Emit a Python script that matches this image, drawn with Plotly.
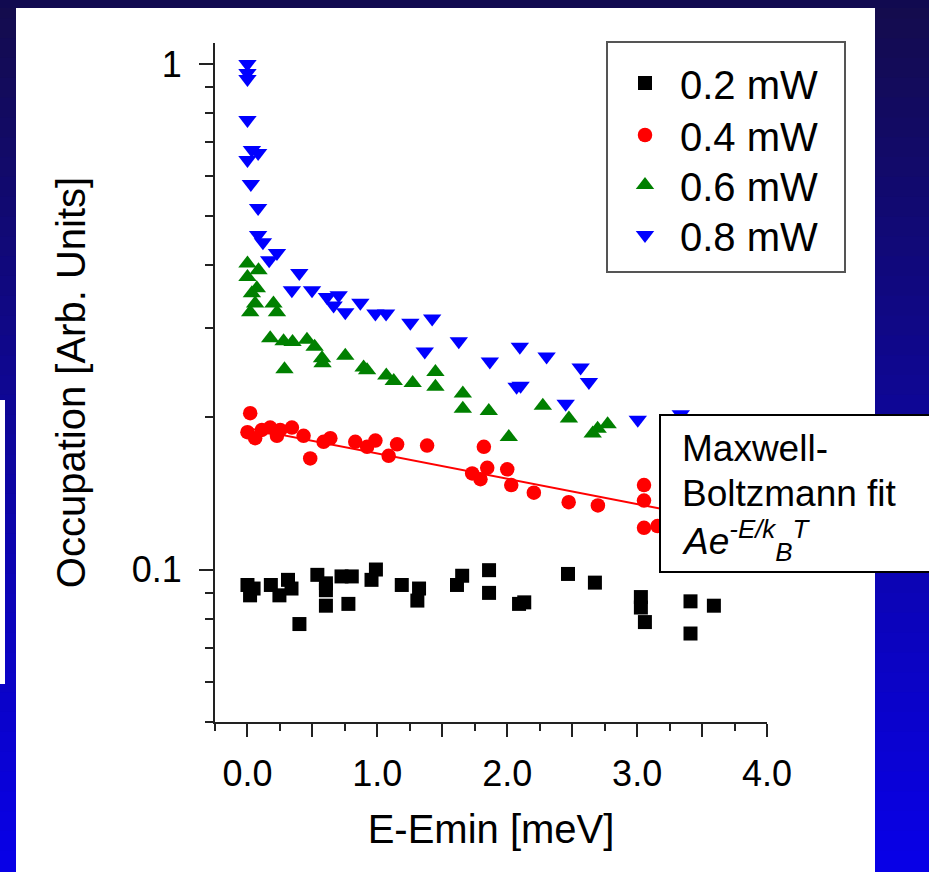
import plotly.graph_objects as go

# ---------------- data ----------------
series_names = ["0.2 mW", "0.4 mW", "0.6 mW", "0.8 mW"]

E_02 = [0.00, 0.047, 0.02, 0.18, 0.246, 0.312, 0.339, 0.40, 0.538, 0.604, 0.604, 0.604,
        0.724, 0.803, 0.777, 0.955, 0.989, 1.188, 1.321, 1.308, 1.613, 1.653, 1.860, 1.860,
        2.091, 2.131, 2.468, 2.675, 3.029, 3.029, 3.06, 3.411, 3.411, 3.591]
occ_02 = [0.0933, 0.0918, 0.0890, 0.0933, 0.0890, 0.0955, 0.0918, 0.0781, 0.0977, 0.0940,
          0.0911, 0.0849, 0.0970, 0.0970, 0.0856, 0.0955, 0.1001, 0.0933, 0.0918, 0.0869,
          0.0933, 0.0973, 0.0998, 0.0900, 0.0856, 0.0862, 0.0981, 0.0943, 0.0883, 0.0842,
          0.0788, 0.0866, 0.0748, 0.0849]

E_04 = [0.021, 0.00, 0.059, 0.111, 0.175, 0.227, 0.252, 0.342, 0.432, 0.483, 0.586, 0.638,
        0.830, 0.921, 0.985, 1.087, 1.152, 1.383, 1.820, 1.730, 1.794, 1.846, 2.000, 2.031,
        2.205, 2.473, 2.698, 3.053, 3.053, 3.053, 3.157]
occ_04 = [0.204, 0.187, 0.182, 0.189, 0.191, 0.184, 0.189, 0.191, 0.184, 0.166, 0.179, 0.182,
          0.179, 0.175, 0.180, 0.168, 0.177, 0.176, 0.175, 0.155, 0.151, 0.159, 0.158, 0.147,
          0.142, 0.136, 0.134, 0.147, 0.137, 0.121, 0.122]

E_06 = [0.00, 0.085, 0.00, 0.072, 0.034, 0.059, 0.20, 0.021, 0.227, 0.175, 0.278, 0.347,
        0.458, 0.517, 0.574, 0.578, 0.753, 0.285, 0.894, 0.921, 1.069, 1.126, 1.272, 1.447,
        1.447, 1.658, 1.658, 1.858, 2.012, 2.274, 2.475, 2.658, 2.696, 2.773]
occ_06 = [0.403, 0.391, 0.379, 0.360, 0.352, 0.336, 0.336, 0.323, 0.323, 0.287, 0.283, 0.282,
          0.285, 0.276, 0.262, 0.256, 0.265, 0.249, 0.251, 0.248, 0.242, 0.236, 0.234, 0.246,
          0.230, 0.223, 0.208, 0.206, 0.183, 0.211, 0.199, 0.186, 0.190, 0.194]

E_08 = [0.00, 0.00, 0.00, 0.00, 0.034, 0.082, 0.00, 0.026, 0.082, 0.082, 0.119, 0.227,
        0.167, 0.399, 0.342, 0.497, 0.612, 0.702, 0.663, 0.753, 0.869, 0.985, 1.067, 1.254,
        1.422, 1.365, 1.627, 1.866, 2.097, 2.072, 2.103, 2.303, 2.565, 2.629, 2.450, 3.005,
        3.336]
occ_08 = [1.00, 0.960, 0.934, 0.775, 0.676, 0.667, 0.646, 0.579, 0.519, 0.459, 0.444, 0.423,
          0.409, 0.386, 0.357, 0.357, 0.346, 0.349, 0.333, 0.323, 0.337, 0.321, 0.321, 0.308,
          0.314, 0.270, 0.283, 0.258, 0.276, 0.230, 0.231, 0.264, 0.251, 0.235, 0.213, 0.198,
          0.203]

# Maxwell-Boltzmann fit drawn through the 0.4 mW points (straight on log axis)
fit_E = [0.0, 3.5]
fit_occ = [0.1905, 0.1273]

x_tickvals = [0, 0.5, 1, 1.5, 2, 2.5, 3, 3.5, 4]
x_ticktext = ["0.0", "", "1.0", "", "2.0", "", "3.0", "", "4.0"]
x_minor = [-0.25, 0.25, 0.75, 1.25, 1.75, 2.25, 2.75, 3.25, 3.75]
y_tickvals = [0.1, 1]
y_ticktext = ["0.1", "1"]
y_minor = [0.05, 0.06, 0.07, 0.08, 0.09, 0.2, 0.3, 0.4, 0.5, 0.6, 0.7, 0.8, 0.9]

# ---------------- layout geometry ----------------
W, H = 929, 872
L, R, T, B = 215, 162, 43, 150
PW, PH = W - L - R, H - T - B
FONT = "Liberation Sans, Arial, sans-serif"


def px2x(p):
    return (p - L) / PW


def py2y(p):
    return (H - B - p) / PH


fig = go.Figure()

fig.add_trace(go.Scatter(x=fit_E, y=fit_occ, mode="lines", showlegend=False,
                         line=dict(color="#ff0000", width=2), hoverinfo="skip"))

styles = [
    (E_02, occ_02, "#000000", "square", 14),
    (E_04, occ_04, "#ff0000", "circle", 14.5),
    (E_06, occ_06, "#008000", "triangle-up", 16),
    (E_08, occ_08, "#0000ff", "triangle-down", 16),
]
legend_ids = ["legend", "legend2", "legend3", "legend4"]
legend_rows = [83, 135, 185, 235]
for name, lid, (xs, ys, col, sym, sz) in zip(series_names, legend_ids, styles):
    fig.add_trace(go.Scatter(x=xs, y=ys, mode="markers", name=name, legend=lid,
                             marker=dict(color=col, symbol=sym, size=sz, line=dict(width=0))))

# ---------------- background (slide) ----------------
shapes = []
top_c = (20, 12, 76)
bot_c = (8, 0, 232)
N = 44
for i in range(N):
    y0p = i * H / N - 1.5
    y1p = (i + 1) * H / N + 1.5
    t = (i + 0.5) / N
    c = tuple(int(round(a + (b - a) * t)) for a, b in zip(top_c, bot_c))
    col = "rgb(%d,%d,%d)" % c
    for (xa, xb) in [(875, 935), (-5, 16)]:
        shapes.append(dict(type="rect", xref="paper", yref="paper", layer="below",
                           x0=px2x(xa), x1=px2x(xb), y0=py2y(y1p), y1=py2y(y0p),
                           fillcolor=col, line=dict(width=0)))
# white thin strip at far left
shapes.append(dict(type="rect", xref="paper", yref="paper", layer="below",
                   x0=px2x(-5), x1=px2x(5), y0=py2y(684), y1=py2y(400),
                   fillcolor="white", line=dict(width=0)))
# top navy band
shapes.append(dict(type="rect", xref="paper", yref="paper", layer="below",
                   x0=px2x(-5), x1=px2x(935), y0=py2y(8), y1=py2y(-5),
                   fillcolor="rgb(17,10,80)", line=dict(width=0)))
# legend frame
shapes.append(dict(type="rect", xref="paper", yref="paper", layer="above",
                   x0=px2x(607), x1=px2x(845), y0=py2y(272), y1=py2y(42),
                   fillcolor="white", line=dict(color="#555555", width=2)))
# fit label box
shapes.append(dict(type="rect", xref="paper", yref="paper", layer="above",
                   x0=px2x(660), x1=px2x(945), y0=py2y(572), y1=py2y(415),
                   fillcolor="white", line=dict(color="black", width=2)))

annotations = [
    dict(text="Maxwell-", x=px2x(680), y=py2y(448.5), xref="paper", yref="paper",
         xanchor="left", yanchor="middle", showarrow=False, font=dict(size=37, color="black")),
    dict(text="Boltzmann fit", x=px2x(680), y=py2y(493), xref="paper", yref="paper",
         xanchor="left", yanchor="middle", showarrow=False, font=dict(size=37, color="black")),
    dict(text="<i>Ae<sup>-E/k</sup><sub>B</sub><sup>T</sup></i>", x=px2x(680), y=py2y(540),
         xref="paper", yref="paper", xanchor="left", yanchor="middle", showarrow=False,
         font=dict(size=37, color="black")),
]

legend_common = dict(xanchor="left", yanchor="middle", bgcolor="rgba(0,0,0,0)",
                     borderwidth=0, font=dict(size=40, color="black"), itemwidth=60)
legends = {}
for lid, row in zip(legend_ids, legend_rows):
    legends[lid] = dict(x=px2x(610), y=py2y(row), **legend_common)

fig.update_layout(
    width=W, height=H,
    margin=dict(l=L, r=R, t=T, b=B, pad=0),
    paper_bgcolor="white", plot_bgcolor="white",
    font=dict(family=FONT, color="black"),
    shapes=shapes, annotations=annotations,
    xaxis=dict(range=[-0.25, 4.0], showgrid=False, zeroline=False,
               showline=True, linecolor="#222222", linewidth=2,
               ticks="outside", ticklen=13, tickwidth=2, tickcolor="#222222",
               tickmode="array", tickvals=x_tickvals, ticktext=x_ticktext,
               tickfont=dict(size=36), ticklabelstandoff=6,
               minor=dict(ticks="outside", ticklen=7, tickwidth=2, tickcolor="#222222",
                          tickmode="array", tickvals=x_minor),
               title=dict(text="E-Emin [meV]", font=dict(size=40), standoff=22)),
    yaxis=dict(type="log", range=[-1.30103, 0.04139], showgrid=False, zeroline=False,
               showline=True, linecolor="#222222", linewidth=2,
               ticks="outside", ticklen=14, tickwidth=2, tickcolor="#222222",
               tickmode="array", tickvals=y_tickvals, ticktext=y_ticktext,
               tickfont=dict(size=36), ticklabelstandoff=10,
               minor=dict(ticks="outside", ticklen=8, tickwidth=2, tickcolor="#222222",
                          tickmode="array", tickvals=y_minor),
               title=dict(text="Occupation [Arb. Units]", font=dict(size=40), standoff=34)),
    **legends,
)

fig.write_html("out.html")
